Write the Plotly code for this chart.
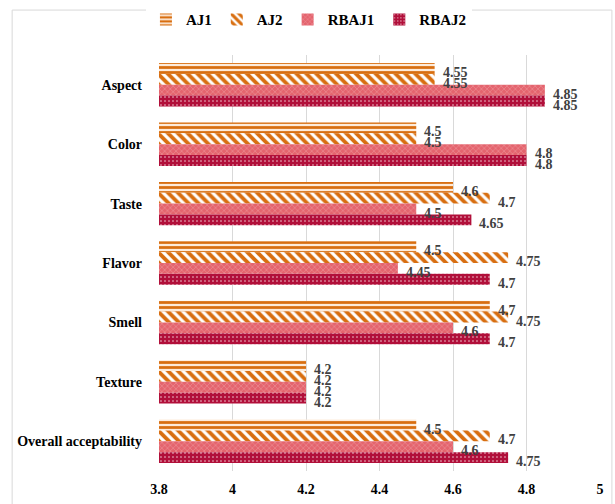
import plotly.graph_objects as go

categories = ["Aspect", "Color", "Taste", "Flavor", "Smell", "Texture", "Overall acceptability"]
series_names = ["AJ1", "AJ2", "RBAJ1", "RBAJ2"]
aj1 = [4.55, 4.5, 4.6, 4.5, 4.7, 4.2, 4.5]
aj2 = [4.55, 4.5, 4.7, 4.75, 4.75, 4.2, 4.7]
rbaj1 = [4.85, 4.8, 4.5, 4.45, 4.6, 4.2, 4.6]
rbaj2 = [4.85, 4.8, 4.65, 4.7, 4.7, 4.2, 4.75]
x_ticks = [3.8, 4, 4.2, 4.4, 4.6, 4.8, 5]
series_values = [aj1, aj2, rbaj1, rbaj2]

FONT = "Times New Roman, Liberation Serif, serif"
ORANGE = "#D86E10"
styles = [
    dict(color="#FBE3CC", pattern=dict(shape="-", fgcolor=ORANGE, bgcolor="#FDEBDA", size=5, solidity=0.55,
                                      fgopacity=1, fillmode="replace")),
    dict(color="white", pattern=dict(shape="\\", fgcolor=ORANGE, bgcolor="white", size=7, solidity=0.55,
                                     fgopacity=1, fillmode="replace")),
    dict(color="#E4646E", pattern=dict(shape="x", fgcolor="#F2A4AA", bgcolor="#E4646E", size=4, solidity=0.2,
                                       fgopacity=1, fillmode="replace")),
    dict(color="#B10F3A", pattern=dict(shape=".", fgcolor="#F6D6DD", bgcolor="#B10F3A", size=4, solidity=0.12,
                                       fgopacity=1, fillmode="replace")),
]

fig = go.Figure()
for name, vals, st in zip(series_names, series_values, styles):
    fig.add_trace(go.Bar(
        name=name, y=categories, x=[v - 3.8 for v in vals], base=3.8,
        orientation="h",
        marker=dict(color=st["color"], pattern=st["pattern"], line=dict(width=0), opacity=1),
        hoverinfo="skip",
    ))

# data labels, offset per series within each group
cat_px = 416 / len(categories)
bar_px = cat_px * (1 - 0.27) / len(series_names)
annotations = []
for i, vals in enumerate(series_values):
    for cat, v in zip(categories, vals):
        annotations.append(dict(
            x=v, y=cat, xref="x", yref="y", text=f"{v:g}", showarrow=False,
            xanchor="left", yanchor="middle", xshift=6,
            yshift=-((i - 1.5) * bar_px + 4),
            font=dict(family=FONT, size=14, color="#404040", weight="bold"),
        ))

fig.update_layout(
    width=615, height=504,
    margin=dict(l=159, r=15, t=55, b=33, autoexpand=False),
    plot_bgcolor="white", paper_bgcolor="white",
    barmode="group", bargap=0.27, bargroupgap=0,
    showlegend=True,
    legend=dict(orientation="h", x=0.34, xanchor="center", y=1.085, yanchor="middle",
                traceorder="normal",
                font=dict(family=FONT, size=15, color="black", weight="bold"),
                itemwidth=30),
    xaxis=dict(range=[3.8, 5], tickvals=x_ticks, ticktext=[f"{t:g}" for t in x_ticks],
               showgrid=True, gridcolor="#D9D9D9", gridwidth=1, zeroline=False,
               showline=False, ticks="", ticklabelstandoff=8,
               tickfont=dict(family=FONT, size=14, color="black", weight="bold")),
    yaxis=dict(autorange="reversed", showgrid=False, showline=False, ticks="",
               ticklabelstandoff=16,
               tickfont=dict(family=FONT, size=14, color="black", weight="bold")),
    annotations=annotations,
    shapes=[dict(type="rect", xref="paper", yref="paper", x0=-0.333, x1=1.027, y0=-0.3, y1=1.108,
                 line=dict(color="#D9D9D9", width=1), fillcolor="rgba(0,0,0,0)", layer="below")],
)

fig.write_html("out.html")
